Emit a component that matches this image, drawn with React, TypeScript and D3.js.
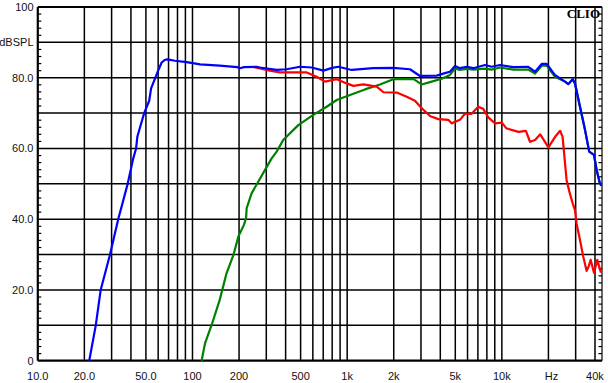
import React from "react";
import * as d3 from "d3";

const blueF = [21.5, 23.7, 25.5, 29.3, 33.1, 38.1, 41.4, 43.2, 44, 48.7, 52.5, 54, 57.3, 60.2, 63.2, 66, 68.8, 77, 91.7, 112, 150, 195, 203, 215, 260, 273, 350, 406, 496, 590, 702, 800, 878, 1070, 1475, 1987, 2546, 2956, 3790, 4284, 4617, 4977, 5357, 5918, 6538, 7782, 8595, 9727, 11860, 14800, 16400, 18100, 19500, 22000, 25600, 26900, 28700, 29700, 32000, 34500, 36700, 39400, 41000, 43000, 44000];
const blueDb = [0, 10, 20, 30, 40, 50, 57.2, 60, 63.3, 70, 73.5, 77, 79.8, 82.2, 84.3, 85, 85.2, 84.8, 84.4, 83.8, 83.4, 83.0, 82.7, 83.0, 83.1, 82.9, 82.2, 82.4, 83.1, 82.9, 82.0, 82.8, 83.1, 82.2, 82.7, 82.8, 82.4, 80.5, 80.6, 81.3, 81.7, 83.3, 82.7, 83.1, 82.7, 83.6, 83.1, 83.6, 83.0, 83.1, 81.7, 83.9, 83.9, 80.8, 78.9, 78.2, 79.6, 78.4, 71.8, 65.2, 59.1, 58.2, 53.9, 50.2, 49.5];

const redF = [250, 273, 316, 367, 547, 635, 719, 856, 993, 1097, 1272, 1553, 1715, 2091, 2427, 2744, 3030, 3430, 3880, 4505, 4730, 5357, 5771, 6375, 7036, 7580, 8170, 9030, 10000, 10700, 12800, 14300, 15200, 16400, 17700, 20000, 22100, 23800, 24700, 26200, 27500, 28700, 29700, 30400, 32000, 33600, 35300, 36300, 37500, 39400, 41400, 43700];
const redDb = [83.0, 82.6, 82.0, 81.5, 81.5, 80.3, 78.9, 79.6, 78.4, 77.7, 78.1, 77.5, 75.9, 75.8, 74.6, 73.5, 71.4, 69.2, 68.3, 68.1, 67.1, 68.1, 69.8, 69.8, 71.8, 71.2, 68.8, 67.1, 67.3, 65.7, 64.7, 65.0, 61.9, 62.4, 64.0, 60.3, 63.3, 65.0, 63.3, 51.1, 47.3, 44.5, 42.6, 38.8, 34.1, 29.4, 25.4, 26.5, 28.5, 24.9, 28.5, 24.9];

const greenF = [114.5, 120.5, 133, 150, 166, 184, 198, 215, 222, 224, 241, 266, 302, 325, 350, 386, 483, 604, 737, 856, 1043, 1303, 1629, 1987, 2675, 3030, 3518, 4083, 4617, 4977, 5357, 5918, 6538, 7782, 8595, 9727, 11860, 14800, 16400, 18100, 19500, 22000, 25600, 26900, 28700, 29700, 32000, 34500, 36700, 39400, 41000, 43000, 44000];
const greenDb = [0, 4.9, 10.1, 17.2, 24.7, 29.9, 35.1, 38.4, 40.3, 43.1, 47.3, 50.6, 54.8, 57.2, 59.1, 62.4, 66.6, 69.5, 71.8, 73.7, 75.1, 76.7, 78.1, 79.6, 79.7, 78.1, 78.9, 79.7, 80.8, 82.6, 82.2, 82.5, 82.3, 82.6, 82.3, 82.9, 82.3, 82.3, 81.2, 83.4, 83.4, 80.3, 78.9, 78.2, 79.6, 78.4, 71.8, 65.2, 59.1, 58.2, 53.9, 50.2, 49.5];

const xGrid = [20, 30, 40, 50, 60, 70, 80, 90, 100, 200, 300, 400, 500, 600, 700, 800, 900, 1000, 2000, 3000, 4000, 5000, 6000, 7000, 8000, 9000, 10000, 20000, 30000, 40000];
const xLabelF = [10, 20, 50, 100, 200, 500, 1000, 2000, 5000, 10000, 20000, 40000];
const xLabels = ["10.0", "20.0", "50.0", "100", "200", "500", "1k", "2k", "5k", "10k", "Hz", "40k"];
const yGrid = [10, 20, 30, 40, 50, 60, 70, 80, 90];
const yLabelV = [100, 90, 80, 60, 40, 20, 0];
const yLabels = ["100", "dBSPL", "80.0", "60.0", "40.0", "20.0", "0"];
const yMinor = d3.range(2, 100, 2).filter((v) => v % 10 !== 0);

export default function App() {
  const x = d3.scaleLog().domain([10, 44400]).range([37.8, 602]);
  const y = d3.scaleLinear().domain([0, 100]).range([360.7, 7]);
  const line = d3
    .line<[number, number]>()
    .x((d) => x(d[0]))
    .y((d) => y(d[1]));
  const mk = (f: number[], v: number[]) => f.map((ff, i) => [ff, v[i]] as [number, number]);
  const font = "'Liberation Sans', Arial, sans-serif";
  const L = x(10), R = 602, T = y(100), B = y(0);
  return (
    <svg width={608} height={383} style={{ position: "absolute", left: 0, top: 0, background: "#fff" }}>
      <rect x={0} y={0} width={608} height={383} fill="#fff" />
      {yGrid.map((v) => (
        <line key={"h" + v} x1={L} x2={R} y1={y(v)} y2={y(v)} stroke="#000" strokeWidth={1.5} />
      ))}
      {xGrid.map((f) => (
        <line key={"v" + f} x1={x(f)} x2={x(f)} y1={T} y2={B} stroke="#000" strokeWidth={1.5} />
      ))}
      {yMinor.map((v) => (
        <g key={"m" + v}>
          <line x1={L} x2={L + 3.5} y1={y(v)} y2={y(v)} stroke="#000" strokeWidth={1.2} />
          <line x1={R - 3.5} x2={R} y1={y(v)} y2={y(v)} stroke="#000" strokeWidth={1.2} />
        </g>
      ))}
      <line x1={R} x2={R} y1={T} y2={B} stroke="#000" strokeWidth={1.2} />
      <line x1={L} x2={R} y1={T} y2={T} stroke="#000" strokeWidth={2.2} />
      <line x1={L} x2={R} y1={B} y2={B} stroke="#000" strokeWidth={2.2} />
      <line x1={L} x2={L} y1={T} y2={B} stroke="#000" strokeWidth={2.2} />
      <path d={line(mk(greenF, greenDb)) || ""} fill="none" stroke="#008000" strokeWidth={2.2} strokeLinejoin="round" />
      <path d={line(mk(redF, redDb)) || ""} fill="none" stroke="#ff0000" strokeWidth={2.2} strokeLinejoin="round" />
      <path d={line(mk(blueF, blueDb)) || ""} fill="none" stroke="#0000ff" strokeWidth={2.2} strokeLinejoin="round" />
      {yLabelV.map((v, i) => (
        <text key={"yl" + v} x={33.5} y={y(v) + 4} textAnchor="end" fontFamily={font} fontSize={11} fill="#111">
          {yLabels[i]}
        </text>
      ))}
      {xLabelF.map((f, i) => (
        <text key={"xl" + f} x={x(f) + (xLabels[i] === "Hz" ? 3 : 0)} y={379.5} textAnchor="middle" fontFamily={font} fontSize={11} fill="#111">
          {xLabels[i]}
        </text>
      ))}
      <text x={600} y={18} textAnchor="end" fontFamily="'Liberation Serif', 'Times New Roman', serif" fontWeight="bold" fontSize={13} fill="#000">
        CLIO
      </text>
    </svg>
  );
}
